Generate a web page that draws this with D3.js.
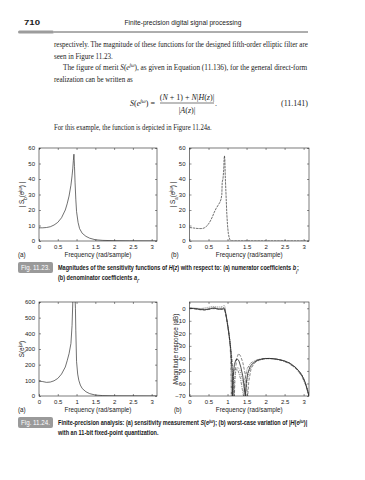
<!DOCTYPE html>
<html><head><meta charset="utf-8">
<script src="https://cdn.jsdelivr.net/npm/d3@7"></script>
<style>body{margin:0;background:#fff}svg{display:block}</style>
</head><body>
<svg id="c" width="365" height="480"></svg>
<script>
// ---------- data ----------
const xTicks = [0, 0.5, 1, 1.5, 2, 2.5, 3];
const xTickLabels = ["0", "0.5", "1", "1.5", "2", "2.5", "3"];
const yTicksSens = [0, 10, 20, 30, 40, 50, 60];
const yTicksMerit = [0, 100, 200, 300, 400, 500, 600];
const yTicksMag = [0, -10, -20, -30, -40, -50, -60, -70];

// Fig 11.23a |S_b(e^jw)| : [freq, value]
const sensNum = [[0,8.5],[0.1,8.5],[0.2,8.7],[0.3,9.2],[0.4,10.3],[0.5,12],[0.6,15],[0.7,20],[0.75,24],[0.8,29],[0.85,36],[0.88,42],[0.9,47],[0.915,52],[0.93,56],[0.945,48],[0.96,38],[0.98,27],[1.0,19],[1.04,12],[1.08,8],[1.15,5],[1.25,3],[1.35,1.8],[1.5,0.8],[1.7,0.4],[2.0,0.2],[2.4,0.1],[3.14,0.05]];
// Fig 11.23b |S_a(e^jw)|
const sensDen = [[0,8.7],[0.1,8.4],[0.2,8.1],[0.3,8.0],[0.35,8.1],[0.4,8.6],[0.45,9.5],[0.5,11],[0.55,13],[0.6,15.5],[0.65,18.5],[0.7,21],[0.75,23],[0.8,25],[0.83,27],[0.85,30],[0.86,38],[0.88,40],[0.9,46],[0.91,53],[0.92,55],[0.93,52],[0.94,42],[0.96,30],[0.98,18],[1.0,10],[1.02,5],[1.04,2.5],[1.06,1],[1.08,0.3],[1.1,0],[3.14,0]];
// Fig 11.24a S(e^jw)
const merit = [[0,95],[0.1,92],[0.2,87],[0.3,89],[0.4,97],[0.5,112],[0.6,140],[0.7,185],[0.75,225],[0.8,270],[0.85,335],[0.88,450],[0.9,600],[0.92,720],[0.94,700],[0.96,620],[0.97,560],[0.98,420],[1.0,220],[1.03,140],[1.06,100],[1.1,70],[1.15,48],[1.25,27],[1.35,15],[1.5,6],[1.7,2.5],[2.0,1],[3.14,0.2]];
// Fig 11.24b magnitude responses (dB)
const magNominal = [[0,0],[0.1,-0.2],[0.2,-0.6],[0.3,-1.0],[0.4,-1.2],[0.5,-0.8],[0.6,0],[0.65,0],[0.7,-0.3],[0.8,-0.8],[0.85,-0.6],[0.9,-0.2],[0.92,-0.5],[0.95,-4],[0.98,-9],[1.0,-13],[1.03,-19],[1.06,-26],[1.08,-32],[1.1,-40],[1.12,-52],[1.135,-70],[1.15,-54],[1.18,-45],[1.22,-41],[1.26,-40.5],[1.3,-42],[1.35,-47],[1.4,-54],[1.44,-63],[1.465,-70],[1.49,-60],[1.53,-52],[1.6,-46],[1.7,-43],[1.8,-41.3],[1.95,-40.2],[2.1,-40],[2.3,-40.6],[2.5,-42],[2.65,-44],[2.8,-47.5],[2.9,-51],[3.0,-56],[3.05,-60],[3.1,-65],[3.14,-70]];
const magQuantA = [[0,0],[0.1,-0.3],[0.2,-0.8],[0.3,-1.3],[0.4,-1.4],[0.5,-1.0],[0.6,-0.3],[0.7,-0.4],[0.8,-1.0],[0.88,-0.8],[0.92,-1],[0.95,-4.5],[0.98,-9.5],[1.0,-13.5],[1.03,-20],[1.06,-27],[1.1,-36],[1.13,-45],[1.16,-58],[1.18,-70],[1.2,-52],[1.24,-40],[1.29,-36],[1.34,-38],[1.4,-43],[1.46,-52],[1.5,-62],[1.53,-70],[1.56,-58],[1.62,-48],[1.7,-44],[1.8,-41.5],[2.0,-40.2],[2.2,-40.2],[2.4,-41.2],[2.6,-43.2],[2.8,-47.8],[2.95,-53],[3.05,-60.5],[3.1,-65.5],[3.14,-70]];
const magQuantB = [[0,0],[0.1,0],[0.2,-0.3],[0.3,-0.5],[0.4,-0.6],[0.5,-0.2],[0.6,0.5],[0.7,0.3],[0.8,-0.2],[0.88,0.5],[0.92,0.8],[0.94,-2],[0.97,-7],[1.0,-12],[1.03,-18],[1.06,-26],[1.08,-38],[1.1,-70],[1.12,-56],[1.16,-50],[1.22,-48],[1.28,-50],[1.34,-56],[1.39,-65],[1.42,-70],[1.46,-56],[1.52,-48],[1.6,-44],[1.7,-42],[1.85,-40.5],[2.0,-40],[2.2,-40.3],[2.4,-41.5],[2.6,-43.8],[2.8,-48.2],[2.95,-54],[3.05,-61],[3.1,-66],[3.14,-70]];
const magQuantC = [[0,0.3],[0.1,0.2],[0.2,0],[0.3,-0.2],[0.4,0.3],[0.5,0.8],[0.6,1.5],[0.7,1.2],[0.8,1.0],[0.88,1.5],[0.91,2.5],[0.93,1.5],[0.95,-3],[0.98,-8],[1.0,-12],[1.03,-18],[1.06,-25],[1.09,-33],[1.12,-45],[1.15,-60],[1.165,-70],[1.18,-58],[1.22,-50],[1.27,-47],[1.32,-49],[1.38,-56],[1.45,-66],[1.48,-70],[1.51,-60],[1.56,-51],[1.65,-45],[1.75,-42.5],[1.9,-40.8],[2.05,-40.1],[2.25,-40.4],[2.45,-41.6],[2.65,-44],[2.8,-47.3],[2.95,-52.5],[3.05,-59.5],[3.1,-64.5],[3.14,-70]];

// ---------- drawing ----------
const svg = d3.select("#c");
svg.append("rect").attr("width", 365).attr("height", 480).attr("fill", "#fff");
const serif = "'Liberation Serif','Times New Roman',serif";
const sans = "'Liberation Sans',Arial,sans-serif";
const narrow = "'Liberation Sans Narrow','Arial Narrow','Liberation Sans',Arial,sans-serif";

function rich(x, y, parts, o) {
  const t = svg.append("text").attr("x", x).attr("y", y)
    .attr("font-family", o.font).attr("font-size", o.size).attr("fill", o.fill || "#1a1a1a");
  if (o.anchor) t.attr("text-anchor", o.anchor);
  if (o.weight) t.attr("font-weight", o.weight);
  parts.forEach(p => {
    if (typeof p === "string") t.append("tspan").text(p);
    else {
      const s = t.append("tspan").text(p.t);
      if (p.sub) s.attr("baseline-shift", "sub").attr("font-size", o.size * 0.7);
      if (p.sup) s.attr("baseline-shift", "super").attr("font-size", o.size * 0.7);
      if (p.it) s.attr("font-style", "italic");
    }
  });
  if (o.rotate) t.attr("transform", `rotate(-90,${x},${y})`);
  else if (o.width || o.k) {
    const w = t.node().getComputedTextLength();
    const k = o.k || o.width / w;
    t.attr("transform", `translate(${x},0) scale(${k},1) translate(${-x},0)`);
  }
  return t;
}
function natural(parts, o) {
  const t = rich(0, -50, parts, o);
  const w = t.node().getComputedTextLength();
  t.remove();
  return w;
}

// page header
rich(24, 25, ["710"], {font: sans, size: 7.5, weight: "bold", width: 16});
rich(183, 25, ["Finite-precision digital signal processing"], {font: sans, size: 7.5, anchor: "middle", width: 117});
svg.append("rect").attr("x", 18).attr("y", 30.5).attr("width", 36).attr("height", 3).attr("rx", 1.5).attr("fill", "#9c9c9c");
svg.append("line").attr("x1", 54).attr("x2", 308).attr("y1", 32).attr("y2", 32).attr("stroke", "#333").attr("stroke-width", 0.8);

// body text
const body = {font: serif, size: 8};
rich(54, 47.5, ["respectively. The magnitude of these functions for the designed fifth-order elliptic filter are"], {...body, width: 254});
rich(54, 59, ["seen in Figure 11.23."], {...body, width: 59});
rich(63, 70.5, ["The figure of merit ", {t: "S", it: true}, "(", {t: "e", it: true}, {t: "jω", sup: true, it: true}, "), as given in Equation (11.136), for the general direct-form"], {...body, width: 245});
rich(54, 82, ["realization can be written as"], {...body, width: 79});
// equation
rich(155, 106, [{t: "S", it: true}, "(", {t: "e", it: true}, {t: "jω", sup: true, it: true}, ") ="], {...body, anchor: "end"});
rich(187, 100, ["(", {t: "N", it: true}, " + 1) + ", {t: "N", it: true}, "|", {t: "H", it: true}, "(", {t: "z", it: true}, ")|"], {...body, anchor: "middle"});
svg.append("line").attr("x1", 160).attr("x2", 214).attr("y1", 103).attr("y2", 103).attr("stroke", "#222").attr("stroke-width", 0.6);
rich(187, 113, ["|", {t: "A", it: true}, "(", {t: "z", it: true}, ")|"], {...body, anchor: "middle"});
rich(215, 106, ["."], body);
rich(308, 106, ["(11.141)"], {...body, anchor: "end"});
rich(54, 130.5, ["For this example, the function is depicted in Figure 11.24a."], {...body, width: 158});

// plots
let clipId = 0;
function plot(cfg) {
  const x = d3.scaleLinear().domain([0, Math.PI]).range([cfg.x0, cfg.x1]);
  const y = d3.scaleLinear().domain(cfg.ydom).range([cfg.y1, cfg.y0]);
  const g = svg.append("g");
  const id = "clip" + (clipId++);
  svg.append("clipPath").attr("id", id).append("rect").attr("x", cfg.x0).attr("y", cfg.y0).attr("width", cfg.x1 - cfg.x0).attr("height", cfg.y1 - cfg.y0);
  const line = d3.line().x(d => x(d[0])).y(d => y(d[1]));
  const dg = g.append("g").attr("clip-path", `url(#${id})`);
  cfg.series.forEach(s => {
    dg.append("path").attr("d", line(s.data)).attr("fill", "none").attr("stroke", s.color || "#333")
      .attr("stroke-width", s.w || 0.7).attr("stroke-dasharray", s.dash || null);
  });
  const len = 2;
  const bottom = d3.axisBottom(x).tickValues(xTicks).tickFormat((d, i) => xTickLabels[i]).tickSizeInner(-len).tickSizeOuter(0).tickPadding(0);
  const top = d3.axisTop(x).tickValues(xTicks).tickFormat("").tickSizeInner(-len).tickSizeOuter(0);
  const left = d3.axisLeft(y).tickValues(cfg.yticks).tickSizeInner(-len).tickSizeOuter(0).tickPadding(4);
  const right = d3.axisRight(y).tickValues(cfg.yticks).tickFormat("").tickSizeInner(-len).tickSizeOuter(0);
  const ax = [
    g.append("g").attr("transform", `translate(0,${cfg.y1})`).call(bottom),
    g.append("g").attr("transform", `translate(0,${cfg.y0})`).call(top),
    g.append("g").attr("transform", `translate(${cfg.x0},0)`).call(left),
    g.append("g").attr("transform", `translate(${cfg.x1},0)`).call(right)
  ];
  ax.forEach(a => {
    a.select(".domain").remove();
    a.selectAll("line").attr("stroke", "#222").attr("stroke-width", 0.5);
    a.selectAll("text").attr("font-family", sans).attr("font-size", 6).attr("fill", "#222");
  });
  ax[0].selectAll("text").attr("dy", null).attr("y", 8);
  g.append("rect").attr("x", cfg.x0).attr("y", cfg.y0).attr("width", cfg.x1 - cfg.x0).attr("height", cfg.y1 - cfg.y0)
    .attr("fill", "none").attr("stroke", "#222").attr("stroke-width", 0.6);
  rich((cfg.x0 + cfg.x1) / 2, cfg.y1 + 15.5, ["Frequency (rad/sample)"], {font: sans, size: 6.3, anchor: "middle"});
  rich(cfg.labX, cfg.y1 + 15.5, [cfg.tag], {font: sans, size: 6.3});
  rich(cfg.ylabX, (cfg.y0 + cfg.y1) / 2, cfg.ylab, {font: sans, size: 6.3, anchor: "middle", rotate: true});
}

plot({x0: 39, x1: 157, y0: 148, y1: 241, ydom: [0, 60], yticks: yTicksSens, tag: "(a)", labX: 18, ylabX: 23.5,
  ylab: ["| S", {t: "b", sub: true}, "(e", {t: "jω", sup: true}, ") |"],
  series: [{data: sensNum, color: "#333"}]});
plot({x0: 189.5, x1: 309, y0: 148, y1: 241, ydom: [0, 60], yticks: yTicksSens, tag: "(b)", labX: 171, ylabX: 174.5,
  ylab: ["| S", {t: "a", sub: true}, "(e", {t: "jω", sup: true}, ") |"],
  series: [{data: sensDen, color: "#333", dash: "2.5,0.8"}]});
plot({x0: 39, x1: 157, y0: 302, y1: 396, ydom: [0, 600], yticks: yTicksMerit, tag: "(a)", labX: 18, ylabX: 23.5,
  ylab: ["S(e", {t: "jω", sup: true}, ")"],
  series: [{data: merit, color: "#333"}]});
plot({x0: 189.5, x1: 309, y0: 302, y1: 396, ydom: [-70, 5], yticks: yTicksMag, tag: "(b)", labX: 174, ylabX: 178,
  ylab: ["Magnitude response (dB)"],
  series: [
    {data: magQuantC, color: "#666", dash: "1,1"},
    {data: magQuantB, color: "#555", dash: "3,1,1,1"},
    {data: magQuantA, color: "#555", dash: "3,1.5"},
    {data: magNominal, color: "#222", w: 0.8}
  ]});

// captions
const capFont = {font: narrow, size: 7, weight: "bold"};
const cap24Line1 = ["Finite-precision analysis: (a) sensitivity measurement ", {t: "S", it: true}, "(", {t: "e", it: true}, {t: "jω", sup: true, it: true}, "); (b) worst-case variation of |", {t: "H", it: true}, "(", {t: "e", it: true}, {t: "jω", sup: true, it: true}, ")|"];
const capK = 250 / natural(cap24Line1, capFont);
function caption(yBox, label, lines) {
  svg.append("rect").attr("x", 18).attr("y", yBox).attr("width", 35).attr("height", 11).attr("rx", 2).attr("fill", "#9a9a9a");
  rich(35.5, yBox + 8, [label], {font: narrow, size: 6.5, anchor: "middle", fill: "#fff", width: 29});
  lines.forEach((l, i) => rich(58, yBox + 8.2 + i * 9.8, l, {...capFont, k: capK}));
}
caption(262, "Fig. 11.23.", [
  ["Magnitudes of the sensitivity functions of ", {t: "H", it: true}, "(", {t: "z", it: true}, ") with respect to: (a) numerator coefficients ", {t: "b", it: true}, {t: "i", sub: true, it: true}, ";"],
  ["(b) denominator coefficients ", {t: "a", it: true}, {t: "i", sub: true, it: true}, "."]
]);
caption(417, "Fig. 11.24.", [
  cap24Line1,
  ["with an 11-bit fixed-point quantization."]
]);
</script>
</body></html>
